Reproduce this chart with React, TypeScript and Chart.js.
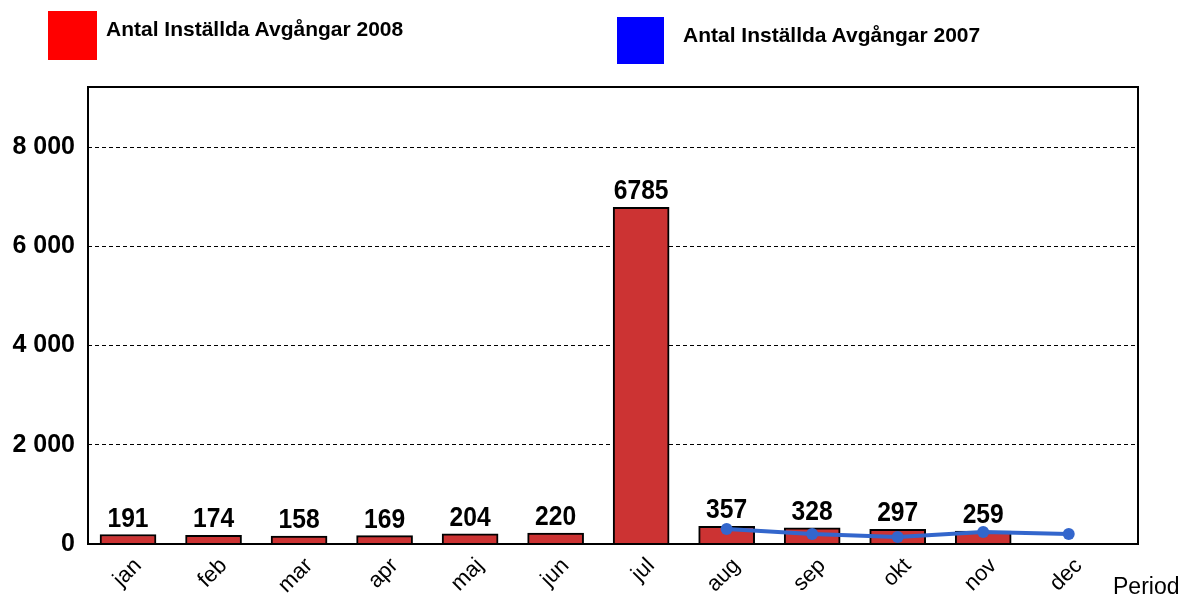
import React, { useEffect, useRef } from "react";
import { Chart, registerables } from "chart.js";

Chart.register(...registerables);

const months = ["jan", "feb", "mar", "apr", "maj", "jun", "jul", "aug", "sep", "okt", "nov", "dec"];
const values2008: (number | null)[] = [191, 174, 158, 169, 204, 220, 6785, 357, 328, 297, 259, null];
const values2007: (number | null)[] = [null, null, null, null, null, null, null, 300, 200, 140, 240, 200];
const yTicks = [0, 2000, 4000, 6000, 8000];
const legendLabels = ["Antal Inställda Avgångar 2008", "Antal Inställda Avgångar 2007"];
const axisTitle = "Period";

const fmt = (v: number) => String(v).replace(/\B(?=(\d{3})+(?!\d))/g, " ");
const FONT = "Arial, 'Liberation Sans', sans-serif";

export default function App() {
  const ref = useRef<HTMLCanvasElement>(null);
  useEffect(() => {
    const ctx = ref.current!.getContext("2d")!;
    const overlay = {
      id: "overlay",
      afterDatasetsDraw(chart: any) {
        const c = chart.ctx;
        const meta = chart.getDatasetMeta(0);
        c.save();
        c.fillStyle = "#000";
        c.font = `bold 28px ${FONT}`;
        c.textAlign = "center";
        c.textBaseline = "alphabetic";
        meta.data.forEach((el: any, i: number) => {
          const v = values2008[i];
          if (v == null) return;
          c.save();
          c.translate(el.x, el.y - 8);
          c.scale(0.88, 1);
          c.fillText(String(v), 0, 0);
          c.restore();
        });
        c.restore();
      },
      afterDraw(chart: any) {
        const c = chart.ctx;
        const a = chart.chartArea;
        c.save();
        c.strokeStyle = "#000";
        c.lineWidth = 2;
        c.strokeRect(a.left, a.top, a.right - a.left, a.bottom - a.top);
        c.fillStyle = "#000";
        c.font = `23px ${FONT}`;
        c.textAlign = "left";
        c.textBaseline = "middle";
        c.fillText(axisTitle, 1113, 588);
        c.restore();
      },
    };
    const chart = new Chart(ctx, {
      type: "bar",
      data: {
        datasets: [
          {
            type: "bar",
            label: legendLabels[0],
            data: values2008.map((y, i) => ({ x: i, y })) as any,
            backgroundColor: "#cc3333",
            borderColor: "#000",
            borderWidth: 2,
            barThickness: 56,
            order: 2,
          },
          {
            type: "line",
            label: legendLabels[1],
            data: values2007.map((y, i) => ({ x: i, y })).filter((p) => p.y != null) as any,
            borderColor: "#3366cc",
            backgroundColor: "#3366cc",
            borderWidth: 4,
            pointRadius: 6,
            pointBackgroundColor: "#3366cc",
            pointBorderWidth: 0,
            order: 1,
          } as any,
        ],
      },
      options: {
        animation: false,
        responsive: false,
        layout: { padding: { top: 87, right: 45, left: 0, bottom: 0 } },
        plugins: { legend: { display: false }, tooltip: { enabled: false } },
        scales: {
          x: {
            type: "linear",
            min: -0.468,
            max: 11.81,
            offset: false,
            grid: { display: false },
            border: { display: false },
            afterBuildTicks: (axis: any) => {
              axis.ticks = months.map((_, i) => ({ value: i }));
            },
            afterFit: (s: any) => {
              s.height = 55;
            },
            ticks: {
              autoSkip: false,
              maxRotation: 45,
              minRotation: 45,
              padding: 1,
              labelOffset: 10,
              color: "#000",
              font: { family: FONT, size: 22 },
              callback: (v: any) => months[Math.round(Number(v))] ?? "",
            },
          },
          y: {
            min: 0,
            max: 9210,
            grid: { color: "#000", lineWidth: 1, drawTicks: false },
            border: { display: false, dash: [4, 3] },
            afterBuildTicks: (axis: any) => {
              axis.ticks = yTicks.map((v) => ({ value: v }));
            },
            afterFit: (s: any) => {
              s.width = 88;
            },
            ticks: {
              padding: 13,
              color: "#000",
              font: { family: FONT, size: 25, weight: "bold" },
              callback: (v: any) => fmt(Number(v)),
            },
          },
        },
      } as any,
      plugins: [overlay],
    });
    return () => chart.destroy();
  }, []);

  const legendText: React.CSSProperties = {
    position: "absolute",
    font: `bold 21px ${FONT}`,
    color: "#000",
    whiteSpace: "nowrap",
  };

  return (
    <div style={{ position: "fixed", left: 0, top: 0, width: 1183, height: 599, background: "#fff" }}>
      <canvas ref={ref} width={1183} height={599} style={{ position: "absolute", left: 0, top: 0 }} />
      <div style={{ position: "absolute", left: 48, top: 11, width: 49, height: 49, background: "#ff0000" }} />
      <div style={{ ...legendText, left: 106, top: 17 }}>{legendLabels[0]}</div>
      <div style={{ position: "absolute", left: 617, top: 17, width: 47, height: 47, background: "#0000ff" }} />
      <div style={{ ...legendText, left: 683, top: 23 }}>{legendLabels[1]}</div>
    </div>
  );
}
